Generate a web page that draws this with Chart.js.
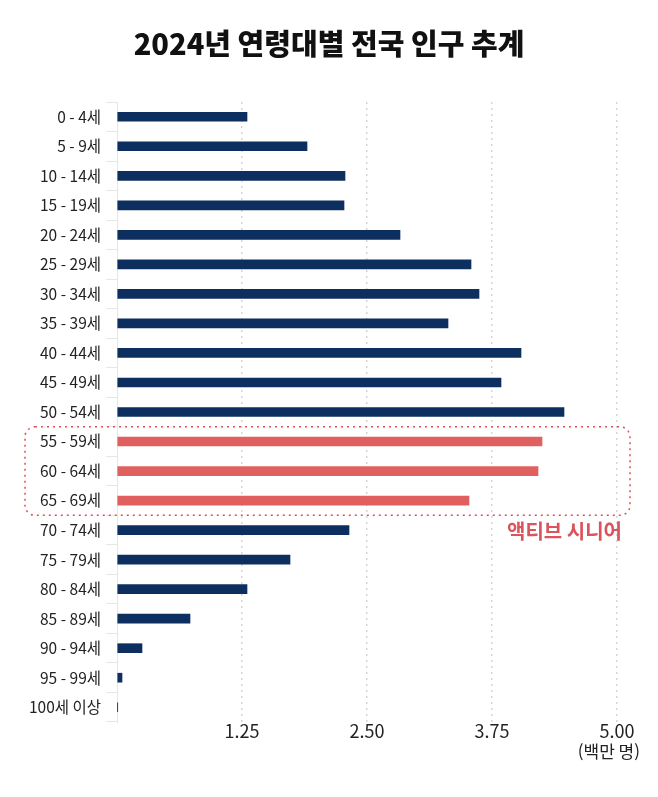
<!DOCTYPE html>
<html lang="ko">
<head>
<meta charset="utf-8">
<title>2024년 연령대별 전국 인구 추계</title>
<script src="https://cdn.jsdelivr.net/npm/chart.js@4.4.1/dist/chart.umd.min.js"></script>
<style>
  html, body { margin: 0; padding: 0; background: #fff; }
  canvas { display: block; }
</style>
</head>
<body>
<canvas id="popChart" width="658" height="797"></canvas>
<script>
// 연령대 (categories)
const ageGroups = ['0 - 4세', '5 - 9세', '10 - 14세', '15 - 19세', '20 - 24세', '25 - 29세',
  '30 - 34세', '35 - 39세', '40 - 44세', '45 - 49세', '50 - 54세', '55 - 59세', '60 - 64세',
  '65 - 69세', '70 - 74세', '75 - 79세', '80 - 84세', '85 - 89세', '90 - 94세', '95 - 99세', '100세 이상'];
// 인구 (백만 명)
const population = [1.30, 1.90, 2.28, 2.27, 2.83, 3.54, 3.62, 3.31, 4.04, 3.84, 4.47,
  4.25, 4.21, 3.52, 2.32, 1.73, 1.30, 0.73, 0.25, 0.05, 0.005];
// 액티브 시니어 group
const activeSenior = ['55 - 59세', '60 - 64세', '65 - 69세'];
const xTicks = [0, 1.25, 2.5, 3.75, 5];

const TITLE = '2024년 연령대별 전국 인구 추계';
const NAVY = '#0c2f5f';
const RED = '#e0605f';
const FONT = "'Noto Sans CJK KR', 'Noto Sans', sans-serif";

// page title (centred on the page, not the plot), dashed box round the
// active senior rows + its label, unit note under the axis
const extras = {
  id: 'extras',
  afterDraw(chart) {
    const { ctx, chartArea, width } = chart;
    const y = chart.scales.y;
    const idx = activeSenior.map(a => ageGroups.indexOf(a));
    const half = (y.getPixelForValue(1) - y.getPixelForValue(0)) / 2;
    const top = y.getPixelForValue(Math.min(...idx)) - half;
    const bottom = y.getPixelForValue(Math.max(...idx)) + half;
    const left = 25, right = chartArea.right + 13, r = 10;

    ctx.save();
    ctx.fillStyle = '#111';
    ctx.font = '900 29px ' + FONT;
    ctx.textAlign = 'center';
    ctx.textBaseline = 'middle';
    ctx.fillText(TITLE, width / 2, 44);

    ctx.strokeStyle = '#d9535f';
    ctx.lineWidth = 1.5;
    ctx.setLineDash([2, 4]);
    ctx.beginPath();
    ctx.roundRect(left, top, right - left, bottom - top, r);
    ctx.stroke();
    ctx.setLineDash([]);

    ctx.fillStyle = '#d9545c';
    ctx.font = 'bold 20px ' + FONT;
    ctx.textAlign = 'right';
    ctx.fillText('액티브 시니어', right - 8, bottom + 16);

    ctx.fillStyle = '#222';
    ctx.font = '17px ' + FONT;
    ctx.fillText('(백만 명)', chartArea.right + 23, 752);
    ctx.restore();
  }
};

new Chart(document.getElementById('popChart'), {
  type: 'bar',
  data: {
    labels: ageGroups,
    datasets: [{
      label: '인구',
      data: population,
      backgroundColor: ageGroups.map(a => activeSenior.includes(a) ? RED : NAVY),
      barThickness: 9,
      borderSkipped: false
    }]
  },
  plugins: [extras],
  options: {
    responsive: false,
    animation: false,
    devicePixelRatio: 1,
    indexAxis: 'y',
    layout: { padding: { left: 0, right: 41, top: 102, bottom: 0 } },
    plugins: {
      legend: { display: false },
      tooltip: { enabled: false },
      title: { display: false }
    },
    scales: {
      x: {
        min: 0,
        max: 5,
        afterBuildTicks: s => { s.ticks = xTicks.map(v => ({ value: v })); },
        afterFit: s => { s.height = 75; },
        border: { display: false, dash: [2, 4] },
        grid: {
          drawTicks: false,
          color: c => c.tick && c.tick.value === 0 ? 'rgba(0,0,0,0)' : '#d6d6d6',
          lineWidth: 1.5
        },
        ticks: {
          padding: -2,
          color: '#222',
          font: { family: FONT, size: 18 },
          callback: v => v === 0 ? '' : v.toFixed(2)
        }
      },
      y: {
        afterFit: s => { s.width = 117; },
        border: { color: '#e6e6e6', width: 1 },
        grid: {
          offset: true,
          drawOnChartArea: false,
          tickLength: 11,
          color: '#e6e6e6'
        },
        ticks: {
          autoSkip: false,
          padding: 5,
          color: '#222',
          font: { family: FONT, size: 15.5 }
        }
      }
    }
  }
});
</script>
</body>
</html>
